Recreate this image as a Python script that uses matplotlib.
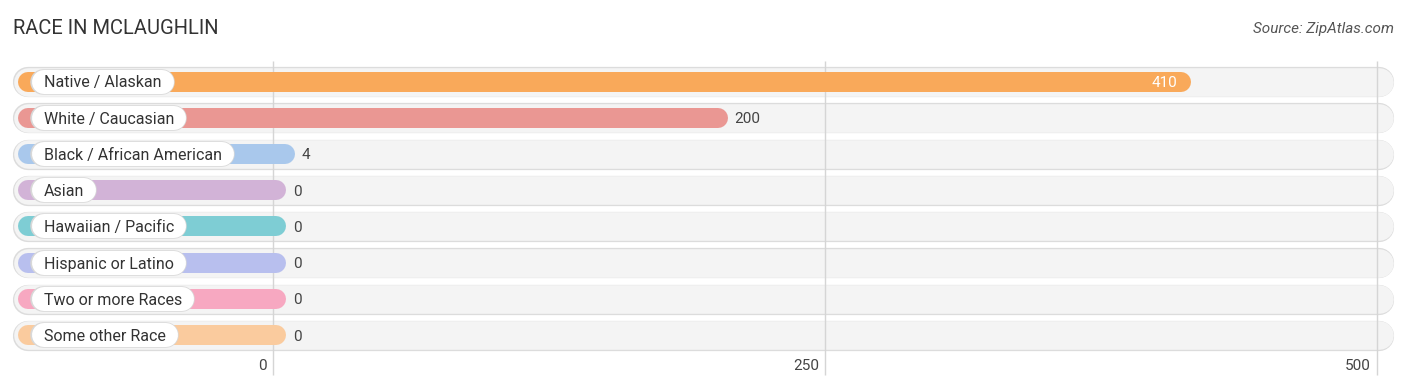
import matplotlib.pyplot as plt

categories = ['Native / Alaskan', 'White / Caucasian', 'Black / African American', 'Asian',
              'Hawaiian / Pacific', 'Hispanic or Latino', 'Two or more Races', 'Some other Race']
values = [410, 200, 4, 0, 0, 0, 0, 0]
colors = ['#F9A95A', '#EA9793', '#A9C8EC', '#D2B3D7', '#7ECDD4', '#B8BFEE', '#F7A8C1', '#FACB9E']
ticks = [0, 250, 500]

plt.rcParams['font.family'] = ['Roboto', 'DejaVu Sans']

fig = plt.figure(figsize=(14.06, 3.91), dpi=100)
ax = fig.add_axes([0, 0, 1, 1])
px = 2.208  # pixels per unit
ax.set_xlim(-273 / px, (1406 - 273) / px)
ax.set_ylim(8.54, -2.25)
ax.axis('off')

bar_start = -111
label_x = (44 - 273) / px
dy = 0.04  # nudge text down a little
texts = []
for i, (cat, v, c) in enumerate(zip(categories, values, colors)):
    # background pill with soft edge
    ax.plot([bar_start, 500.7], [i + 0.015, i + 0.015], color='#DCDCDC', lw=21.8,
            solid_capstyle='round', zorder=1)
    ax.plot([bar_start, 500.7], [i, i], color='#F4F4F4', lw=20.6,
            solid_capstyle='round', zorder=2)
    # colored bar
    end = v + 1.4
    ax.plot([bar_start, end], [i, i], color=c, lw=14.4, solid_capstyle='round', zorder=4)
    # label text
    t = ax.text(label_x, i + dy, cat, ha='left', va='center', fontsize=11.5,
                color='#333333', zorder=7)
    texts.append(t)
    # value label
    if v > 300:
        ax.text(end + 3.5 - 12 / px, i + dy, str(v), ha='right', va='center', fontsize=11,
                color='white', zorder=6)
    else:
        ax.text(end + 4.5 + 7 / px, i + dy, str(v), ha='left', va='center', fontsize=11,
                color='#444444', zorder=6)

# white label pills sized to the text
fig.canvas.draw()
r = 12 / px
for i, t in enumerate(texts):
    bb = t.get_window_extent()
    right = ax.transData.inverted().transform((bb.x1, 0))[0]
    x0 = (32 - 273) / px + r
    x1 = right + 12 / px - r
    ax.plot([x0 - 0.6, x1], [i, i], color='#D8D8D8', lw=18.4, solid_capstyle='round', zorder=5)
    ax.plot([x0, x1], [i, i], color='white', lw=17.3, solid_capstyle='round', zorder=6)

for t in ticks:
    ax.vlines(t, -0.58, 8.1, color='#D5D5D5', lw=1, zorder=3)
    ax.text(t - 6 / px, 7.85, str(t), ha='right', va='center', fontsize=11, color='#444444')

fig.text(13 / 1406, 1 - 29 / 391, 'RACE IN MCLAUGHLIN', ha='left', va='center',
         fontsize=14.5, color='#333333')
fig.text(1394 / 1406, 1 - 29 / 391, 'Source: ZipAtlas.com', ha='right', va='center',
         fontsize=11, color='#555555', style='italic')

fig.savefig('out.png', dpi=100)
